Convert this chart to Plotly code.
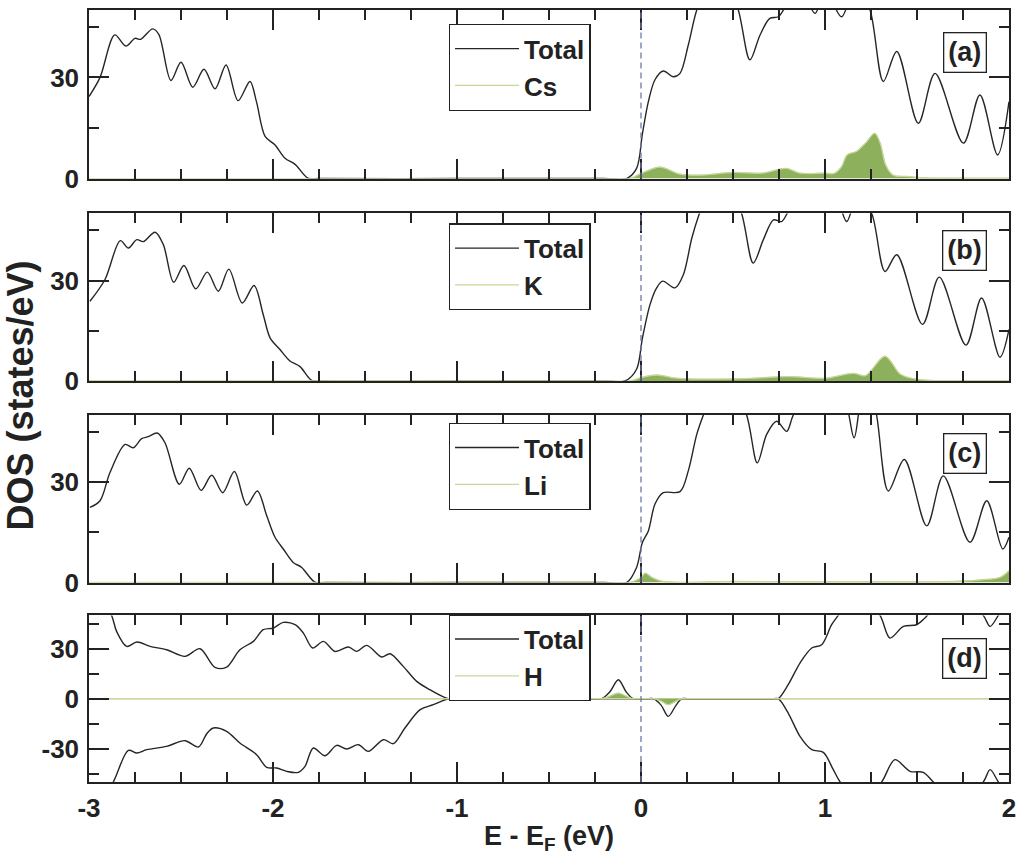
import plotly.graph_objects as go
from plotly.subplots import make_subplots

# ---------------- data ----------------
# Panel (a): Total and Cs
E_a_total = [-3.0, -2.94, -2.86, -2.80, -2.75, -2.72, -2.654, -2.62, -2.555, -2.50, -2.436, -2.375,
             -2.315, -2.255, -2.19, -2.125, -2.09, -2.043, -1.99, -1.935, -1.88, -1.81, -1.75, -1.0,
             -0.2, -0.078, -0.024, 0.008, 0.04, 0.076, 0.121, 0.176, 0.212, 0.257, 0.303, 0.42, 0.529,
             0.592, 0.647, 0.70, 0.746, 0.78, 0.86, 0.946, 1.0, 1.09, 1.17, 1.245, 1.317, 1.39, 1.507,
             1.598, 1.752, 1.842, 1.938, 2.0]
DOS_a_total = [24.3, 30, 42.6, 39.3, 41.6, 41.3, 44.4, 42.7, 29.1, 34.5, 27.1, 32.4,
               26.6, 33.7, 23.1, 28.8, 22.8, 12.5, 10.0, 6.0, 4.2, 0.1, 0, 0,
               0, 0, 3.0, 13.4, 22.8, 29.3, 31.9, 30.2, 31.2, 39.6, 50, 66, 50,
               35.2, 42.6, 47.5, 48.0, 50.5, 57, 49, 56, 48, 58, 50, 28.8, 37.7, 16.4,
               31.2, 10.5, 24.8, 7.0, 22.8]
E_a_cs = [-3.0, -1.0, -0.2, -0.06, 0.0, 0.103, 0.212, 0.32, 0.5, 0.66, 0.79, 0.864, 1.0, 1.05, 1.09,
          1.12, 1.17, 1.22, 1.27, 1.30, 1.33, 1.37, 1.45, 1.55, 1.8, 2.0]
DOS_a_cs = [0, 0, 0, 0, 1.5, 3.4, 1.3, 1.0, 1.8, 1.6, 3.0, 1.6, 1.6, 1.5, 3.5,
            7.0, 8.0, 10.5, 13.4, 10.5, 4.0, 1.0, 0.6, 0.2, 0.1, 0.1]

# Panel (b): Total and K
E_b_total = [-2.995, -2.913, -2.83, -2.786, -2.74, -2.705, -2.641, -2.596, -2.54, -2.484, -2.42,
             -2.357, -2.297, -2.24, -2.167, -2.103, -2.053, -2.016, -1.962, -1.908, -1.853, -1.79,
             -1.73, -1.0, -0.2, -0.087, -0.024, 0.008, 0.049, 0.085, 0.118, 0.185, 0.23, 0.276,
             0.315, 0.43, 0.547, 0.61, 0.665, 0.72, 0.764, 0.80, 0.93, 1.06, 1.118, 1.18, 1.254,
             1.326, 1.39, 1.53, 1.621, 1.766, 1.851, 1.951, 2.0]
DOS_b_total = [23.8, 30.3, 41.9, 39.7, 42.2, 41.6, 44.4, 40.7, 29.5, 34.5, 27.5,
               32.5, 26.8, 33.4, 23.3, 28.5, 19.8, 12.9, 9.4, 6.0, 4.3, 0.2,
               0, 0, 0, 0, 3.5, 12.9, 22.8, 27.8, 29.8, 27.8, 31.7, 42.6,
               49.6, 66, 50, 35.2, 42.2, 48.1, 47.6, 50.5, 60, 55, 47.6, 56, 50,
               32.7, 37.7, 16.9, 31.0, 10.7, 24.8, 7.1, 15.4]
E_b_k = [-3.0, -1.0, -0.2, -0.06, 0.0, 0.085, 0.2, 0.5, 0.81, 1.0, 1.154, 1.22, 1.326, 1.41, 1.5,
         1.8, 2.0]
DOS_b_k = [0, 0, 0, 0, 1.0, 1.8, 0.8, 0.6, 1.3, 0.8, 2.3, 1.6, 7.4, 2.0, 0.5, 0.1, 0.1]

# Panel (c): Total and Li
E_c_total = [-2.995, -2.94, -2.886, -2.804, -2.759, -2.714, -2.678, -2.629, -2.587, -2.509, -2.455,
             -2.391, -2.333, -2.273, -2.21, -2.143, -2.085, -2.034, -1.989, -1.944, -1.89, -1.844,
             -1.772, -1.71, -1.0, -0.2, -0.078, -0.024, 0.008, 0.04, 0.076, 0.121, 0.212, 0.257,
             0.303, 0.339, 0.45, 0.574, 0.632, 0.683, 0.737, 0.792, 0.828, 0.95, 1.10, 1.158, 1.199,
             1.24, 1.28, 1.344, 1.431, 1.553, 1.643, 1.788, 1.879, 1.966, 2.0]
DOS_c_total = [22.4, 24.4, 32.8, 41.2, 40.2, 42.9, 43.5, 44.6, 41.7, 29.3, 34.1,
               27.5, 32.0, 26.8, 33.1, 23.1, 27.3, 19.9, 13.5, 10.0, 6.0, 4.5,
               0.1, 0, 0, 0, 0, 4.5, 12.0, 15.4, 23.4, 26.8, 27.1, 33.3,
               44.2, 50, 65, 50, 35.7, 44.2, 48.1, 45.1, 50, 60, 55, 43.2, 55,
               58, 50, 27.3, 36.7, 16.9, 31.8, 12.0, 24.4, 10.0, 13.5]
E_c_li = [-3.0, -1.0, -0.2, -0.06, 0.0, 0.022, 0.06, 0.12, 0.5, 1.0, 1.5, 1.7, 1.85, 1.95, 2.0]
DOS_c_li = [0, 0, 0, 0, 1.5, 2.8, 1.5, 0.3, 0.3, 0.2, 0.2, 0.3, 0.8, 1.5, 3.5]

# Panel (d): Total (spin up / spin down) and H
E_d_up = [-3.0, -2.877, -2.85, -2.795, -2.74, -2.668, -2.578, -2.478, -2.397, -2.315, -2.252, -2.18,
          -2.107, -2.053, -1.998, -1.944, -1.88, -1.835, -1.784, -1.726, -1.663, -1.59, -1.545,
          -1.49, -1.41, -1.364, -1.292, -1.219, -1.147, -1.047, -1.0, -0.6, -0.25, -0.214, -0.17,
          -0.123, -0.08, -0.043, -0.015, 0.3, 0.72, 0.746, 0.8, 0.864, 0.928, 0.982, 1.036, 1.072,
          1.18, 1.299, 1.353, 1.426, 1.498, 1.543, 1.6, 1.75, 1.86, 1.897, 1.942, 2.0]
DOS_d_up = [75, 50, 40.4, 31.4, 34.0, 31.4, 29.4, 25.4, 30.0, 18.8, 19.0, 29.4,
            34.4, 41.4, 42.4, 45.8, 44.4, 39.4, 30.4, 34.4, 28.4, 31.0, 28.4,
            32.0, 25.0, 27.0, 19.4, 10.4, 5.4, 0, 0, 0, 0, 0, 4.0,
            11.4, 4.0, 0, 0, 0, 0, 0, 8.4, 21.4, 30.4, 32.4, 44.4, 50,
            65, 50, 36.4, 43.4, 44.4, 48.4, 55, 60, 50, 43.4, 50, 60]
E_d_dn = [-3.0, -2.868, -2.786, -2.74, -2.686, -2.578, -2.478, -2.405, -2.36, -2.324, -2.252, -2.18,
          -2.089, -2.034, -1.98, -1.926, -1.863, -1.826, -1.781, -1.717, -1.654, -1.6, -1.536,
          -1.482, -1.4, -1.346, -1.283, -1.2, -1.129, -1.047, -1.0, -0.6, 0.04, 0.067, 0.11, 0.148,
          0.19, 0.221, 0.25, 0.4, 0.72, 0.746, 0.8, 0.864, 0.928, 0.991, 1.045, 1.082, 1.19, 1.308,
          1.38, 1.462, 1.534, 1.589, 1.72, 1.86, 1.897, 1.942, 2.0]
DOS_d_dn = [-75, -50, -31.0, -32.6, -30.6, -28.6, -25.2, -29.0, -21.0, -17.6, -19.6, -26.6,
            -33.6, -41.2, -41.6, -43.6, -44.2, -40.6, -29.6, -34.2, -28.0, -30.2, -27.6,
            -31.6, -24.6, -27.0, -17.6, -6.6, -3.6, 0, 0, 0, 0, 0, -4.0, -10.6,
            -4.0, 0, 0, 0, 0, 0, -8.6, -22.6, -30.6, -32.2, -42.6, -50, -65, -50,
            -36.6, -43.6, -44.2, -50, -62, -50, -42.6, -50, -60]
E_d_h_up = [-3.0, -1.0, -0.3, -0.24, -0.214, -0.17, -0.123, -0.08, -0.043, -0.02, 1.0, 2.0]
DOS_d_h_up = [0, 0, 0, 0, 0, 1.5, 3.4, 1.5, 0, 0, 0, 0]
E_d_h_dn = [-3.0, -1.0, 0.04, 0.067, 0.11, 0.148, 0.19, 0.221, 0.245, 1.0, 2.0]
DOS_d_h_dn = [0, 0, 0, 0, -1.5, -3.6, -1.5, 0, 0, 0, 0]

panel_labels = ["(a)", "(b)", "(c)", "(d)"]
species = ["Cs", "K", "Li", "H"]
x_ticks = [-3, -2, -1, 0, 1, 2]
x_ticktext = ["-3", "-2", "-1", "0", "1", "2"]
y_ticks_top = [0, 30]
y_ticktext_top = ["0", "30"]
y_ticks_d = [-30, 0, 30]
y_ticktext_d = ["-30", "0", "30"]
E_FERMI = 0

# ---------------- style ----------------
FONT = "Liberation Sans, Arial, Helvetica, sans-serif"
INK = "#222222"
TOTAL_C = "#262626"
FILL_C = "#8cb05c"
PART_C = "#c6d898"
FERMI_C = "#6f77a8"

fig = make_subplots(rows=4, cols=1)

totals = [[(E_a_total, DOS_a_total)], [(E_b_total, DOS_b_total)], [(E_c_total, DOS_c_total)],
          [(E_d_up, DOS_d_up), (E_d_dn, DOS_d_dn)]]
partials = [[(E_a_cs, DOS_a_cs)], [(E_b_k, DOS_b_k)], [(E_c_li, DOS_c_li)],
            [(E_d_h_up, DOS_d_h_up), (E_d_h_dn, DOS_d_h_dn)]]
legend_ids = ["legend", "legend2", "legend3", "legend4"]

for i in range(4):
    row = i + 1
    for j, (ex, dy) in enumerate(totals[i]):
        fig.add_trace(go.Scatter(x=ex, y=dy, mode="lines", name="Total",
                                 line=dict(color=TOTAL_C, width=1.4, shape="spline", smoothing=0.9),
                                 legend=legend_ids[i], legendgroup=f"t{i}", showlegend=(j == 0)),
                      row=row, col=1)
    for j, (ex, dy) in enumerate(partials[i]):
        # filled area
        fig.add_trace(go.Scatter(x=ex, y=dy, mode="lines", name=species[i], fill="tozeroy",
                                 fillcolor=FILL_C,
                                 line=dict(color=FILL_C, width=0.5, shape="spline", smoothing=0.9),
                                 legend=legend_ids[i], legendgroup=f"p{i}", showlegend=False),
                      row=row, col=1)
        # outline (also the legend entry)
        fig.add_trace(go.Scatter(x=ex, y=dy, mode="lines", name=species[i],
                                 line=dict(color=PART_C, width=1.3, shape="spline", smoothing=0.9),
                                 legend=legend_ids[i], legendgroup=f"p{i}", showlegend=(j == 0)),
                      row=row, col=1)

# panel domains (paper fractions)
domains = [[0.7817, 1.0], [0.5194, 0.7364], [0.2584, 0.4755], [0.0, 0.2158]]
legend_tops = [0.982, 0.7236, 0.4652, 0.2172]
label_y = [0.746, 0.777, 0.771, 0.743]

axis_common = dict(showline=True, linecolor=INK, linewidth=1.5, mirror="ticks",
                   ticks="inside", tickcolor=INK, tickwidth=1.5, ticklen=20,
                   showgrid=False, zeroline=False,
                   tickfont=dict(family=FONT, size=26, color=INK, weight="bold"))

for i in range(4):
    row = i + 1
    fig.update_xaxes(range=[-3, 2], tickvals=x_ticks, ticktext=x_ticktext,
                     showticklabels=(row == 4),
                     minor=dict(dtick=0.25, tick0=0, ticks="inside", ticklen=10, tickwidth=1.5,
                                tickcolor=INK),
                     ticklabelstandoff=2,
                     row=row, col=1, **axis_common)
    if row == 4:
        yr, tv, tt = [-50, 50], y_ticks_d, y_ticktext_d
    else:
        yr, tv, tt = [0, 50], y_ticks_top, y_ticktext_top
    fig.update_yaxes(range=yr, tickvals=tv, ticktext=tt, domain=domains[i],
                     minor=dict(dtick=15, tick0=0, ticks="inside", ticklen=10, tickwidth=1.5,
                                tickcolor=INK),
                     ticklabelstandoff=3,
                     row=row, col=1, **axis_common)
    xref = "x" if row == 1 else f"x{row}"
    yref = "y" if row == 1 else f"y{row}"
    # Fermi level
    fig.add_shape(type="line", xref=xref, yref=f"{yref} domain", x0=E_FERMI, x1=E_FERMI, y0=0, y1=1,
                  line=dict(color=FERMI_C, width=1.3, dash="6px,4px"), layer="above")
    # panel label
    fig.add_annotation(text=panel_labels[i], xref=f"{xref} domain", yref=f"{yref} domain",
                       x=0.952, y=label_y[i], xanchor="center", yanchor="middle", showarrow=False,
                       font=dict(family=FONT, size=27, color=INK, weight="bold"),
                       bordercolor=INK, borderwidth=1.3, borderpad=4, bgcolor="white")

fig.update_xaxes(title=dict(text="E - E<sub>F</sub> (eV)", standoff=4,
                            font=dict(family=FONT, size=27, color=INK, weight="bold")),
                 row=4, col=1)

legend_style = dict(bgcolor="white", bordercolor=INK, borderwidth=1.3,
                    font=dict(family=FONT, size=26, color=INK, weight="bold"),
                    x=0.391, xanchor="left", yanchor="top", itemwidth=64, tracegroupgap=0)
layout_legends = {}
for i, lid in enumerate(legend_ids):
    layout_legends[lid] = dict(legend_style, y=legend_tops[i])

fig.add_annotation(text="DOS (states/eV)", xref="paper", yref="paper", x=-0.0755, y=0.5,
                   xanchor="center", yanchor="middle",
                   textangle=-90, showarrow=False,
                   font=dict(family=FONT, size=36, color=INK, weight="bold"))

fig.update_layout(width=1027, height=858, margin=dict(l=89, r=18, t=8, b=76),
                  paper_bgcolor="white", plot_bgcolor="white", showlegend=True,
                  **layout_legends)

fig.write_html("out.html")
